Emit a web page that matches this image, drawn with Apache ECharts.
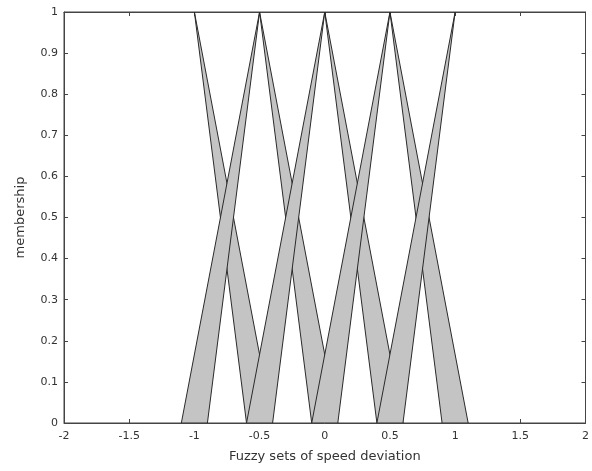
<!DOCTYPE html>
<html>
<head>
<meta charset="utf-8">
<script src="https://cdn.jsdelivr.net/npm/echarts@6/dist/echarts.min.js"></script>
<style>html,body{margin:0;padding:0;background:#fff}#c{width:592px;height:471px}</style>
</head>
<body>
<div id="c"></div>
<script>
// Wedge (footprint of uncertainty) for each side of each fuzzy set
const apexX     = [-1,   -0.5, -0.5, 0,    0,   0.5,  0.5, 1];
const apexY     = [1,    1,    1,    1,    1,   1,    1,   1];
const outerFoot = [-0.4, -1.1, 0.1,  -0.6, 0.6, -0.1, 1.1, 0.4];
const innerFoot = [-0.6, -0.9, -0.1, -0.4, 0.4, 0.1,  0.9, 0.6];
const xTicks = [-2, -1.5, -1, -0.5, 0, 0.5, 1, 1.5, 2];
const yTicks = [0, 0.1, 0.2, 0.3, 0.4, 0.5, 0.6, 0.7, 0.8, 0.9, 1];

const wedgeData = apexX.map((a, i) => [a, apexY[i], outerFoot[i], innerFoot[i]]);

const chart = echarts.init(document.getElementById('c'), null, {renderer: 'canvas'});
const fontFamily = '"DejaVu Sans", Verdana, sans-serif';
const labelStyle = {color: '#333', fontSize: 11, fontFamily};
const nameStyle = {color: '#333', fontSize: 13, fontFamily};
const lineCol = '#444';
chart.setOption({
  animation: false,
  grid: {left: 64, right: 4, top: 12, bottom: 48, show: true, borderColor: lineCol, borderWidth: 1, backgroundColor: '#fff'},
  xAxis: [{
    type: 'value', min: -2, max: 2, interval: 0.5,
    name: 'Fuzzy sets of speed deviation', nameLocation: 'middle', nameGap: 27,
    nameTextStyle: nameStyle,
    axisLine: {show: true, onZero: false, lineStyle: {color: lineCol}},
    axisTick: {show: true, inside: true, length: 4, lineStyle: {color: lineCol}},
    axisLabel: Object.assign({margin: 8, formatter: v => xTicks.includes(v) ? String(v) : ''}, labelStyle),
    splitLine: {show: false}
  }, {
    type: 'value', min: -2, max: 2, interval: 0.5, position: 'top',
    axisLine: {show: true, onZero: false, lineStyle: {color: lineCol}},
    axisTick: {show: true, inside: true, length: 4, lineStyle: {color: lineCol}},
    axisLabel: {show: false}, splitLine: {show: false}
  }],
  yAxis: [{
    type: 'value', min: 0, max: 1, interval: 0.1,
    name: 'membership', nameLocation: 'middle', nameGap: 37, nameRotate: 90,
    nameTextStyle: nameStyle,
    axisLine: {show: true, onZero: false, lineStyle: {color: lineCol}},
    axisTick: {show: true, inside: true, length: 4, lineStyle: {color: lineCol}},
    axisLabel: Object.assign({margin: 6, formatter: v => String(yTicks.find(t => Math.abs(t - v) < 1e-9) ?? '')}, labelStyle),
    splitLine: {show: false}
  }, {
    type: 'value', min: 0, max: 1, interval: 0.1, position: 'right',
    axisLine: {show: true, onZero: false, lineStyle: {color: lineCol}},
    axisTick: {show: true, inside: true, length: 4, lineStyle: {color: lineCol}},
    axisLabel: {show: false}, splitLine: {show: false}
  }],
  series: [{
    type: 'custom',
    xAxisIndex: 0, yAxisIndex: 0,
    clip: true,
    data: wedgeData,
    renderItem: function (params, api) {
      const apex = api.coord([api.value(0), api.value(1)]);
      const f1 = api.coord([api.value(2), 0]);
      const f2 = api.coord([api.value(3), 0]);
      return {
        type: 'polygon',
        shape: {points: [apex, f1, f2]},
        style: {fill: '#c4c4c4', stroke: '#2a2a2a', lineWidth: 1}
      };
    }
  }]
});
</script>
</body>
</html>
